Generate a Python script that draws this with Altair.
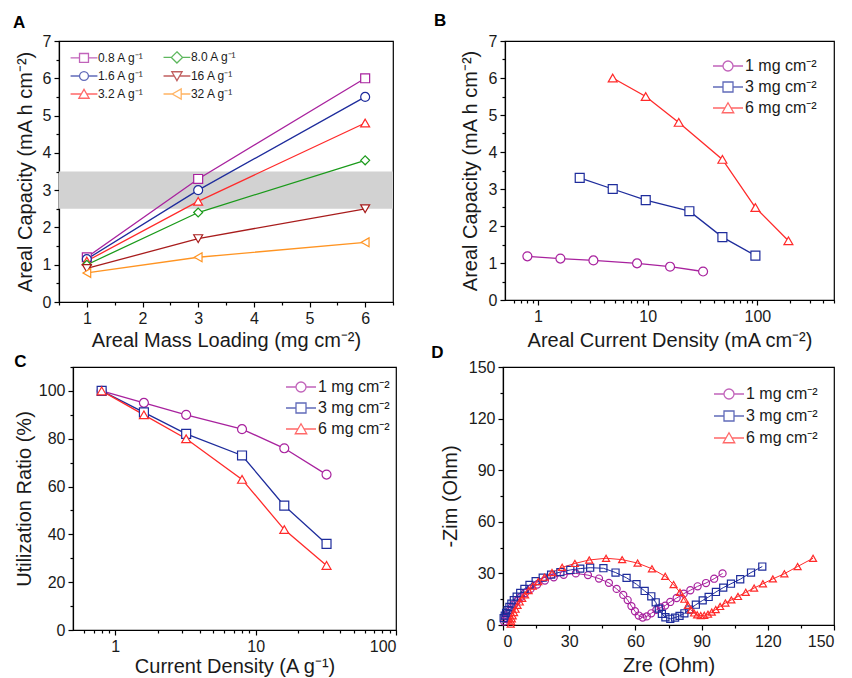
import altair as alt
import pandas as pd

# ---------------- data ----------------
A_LOADING = [1, 3, 6]
A_SERIES = ["0.8 A g⁻¹", "1.6 A g⁻¹", "3.2 A g⁻¹", "8.0 A g⁻¹", "16  A g⁻¹", "32  A g⁻¹"]
A_VALUES = [
    [1.20, 3.30, 6.00],
    [1.15, 3.00, 5.50],
    [1.10, 2.70, 4.80],
    [1.00, 2.40, 3.80],
    [0.90, 1.70, 2.50],
    [0.78, 1.20, 1.60],
]
A_COLORS = ["#A8229E", "#1E2C9C", "#FF2A2A", "#1A9A1A", "#A81C1C", "#FF9422"]
A_SHAPES = ["square", "circle", "triangle-up", "diamond", "triangle-down", "triangle-left"]
BAND = {"x0": 0.5, "x1": 6.5, "y0": 2.5, "y1": 3.5}

M_SERIES = ["1 mg cm⁻²", "3 mg cm⁻²", "6 mg cm⁻²"]
M_COLORS = ["#A8229E", "#1E2C9C", "#FF2A2A"]
M_SHAPES = ["circle", "square", "triangle-up"]

B_X = [
    [0.8, 1.6, 3.2, 8, 16, 32],
    [2.4, 4.8, 9.6, 24, 48, 96],
    [4.8, 9.6, 19.2, 48, 96, 192],
]
B_Y = [
    [1.18, 1.12, 1.07, 0.99, 0.90, 0.77],
    [3.30, 3.00, 2.70, 2.40, 1.70, 1.20],
    [6.00, 5.50, 4.80, 3.80, 2.50, 1.60],
]

C_X = [0.8, 1.6, 3.2, 8, 16, 32]
C_Y = [
    [100, 95, 90, 84, 76, 65],
    [100, 91, 82, 73, 52, 36],
    [100, 90, 80, 63, 42, 27],
]

D1_X = [0.5, 1.0, 1.6, 2.3, 3.1, 4.0, 5.1, 6.4, 8.0, 10.0, 12.5, 15.5, 19.0, 23.0, 27.5, 33.0, 38.5, 43.5, 48.0,
        51.5, 54.5, 56.5, 58.2, 59.8, 61.5, 63.3, 65.2, 67.2, 69.5, 71.5, 73.5, 75.8, 78.7, 81.9, 84.9, 88.2,
        92.0, 95.7, 99.5]
D1_Y = [2.0, 3.5, 5.0, 6.7, 8.5, 10.3, 12.2, 14.2, 16.3, 18.6, 21.0, 23.5, 25.8, 27.7, 29.2, 30.0, 29.0, 27.0, 24.5,
        21.0, 17.5, 14.5, 11.0, 8.0, 5.5, 4.3, 5.0, 6.8, 8.8, 10.2, 11.3, 13.4, 15.7, 18.2, 20.2, 22.5,
        24.4, 26.9, 30.0]
D2_X = [0.3, 0.8, 1.4, 2.1, 2.9, 3.8, 4.9, 6.2, 7.8, 9.7, 12.0, 14.8, 18.0, 21.8, 26.0, 30.5, 35.0, 39.5, 45.5,
        51.0, 56.0, 60.5, 64.2, 67.2, 69.2, 70.6, 72.0, 73.6, 75.8, 78.0, 80.0, 82.2, 84.4, 87.4, 90.5, 93.2,
        96.5, 99.8, 103.3, 107.5, 112.4, 117.5]
D2_Y = [4.0, 5.5, 7.0, 8.7, 10.5, 12.4, 14.4, 16.5, 18.7, 21.0, 23.3, 25.5, 27.5, 29.3, 30.8, 32.0, 32.8, 33.3, 33.0,
        30.5, 27.4, 23.7, 19.8, 16.7, 13.2, 9.5, 6.5, 4.5, 3.6, 4.3, 5.3, 6.8, 9.0, 11.8, 14.3, 16.3,
        19.2, 21.7, 24.0, 26.6, 30.5, 34.0]
D3_X = [3.5, 3.7, 4.0, 4.4, 5.0, 5.7, 6.6, 7.6, 8.7, 10.0, 11.6, 13.5, 16.0, 18.8, 22.2, 26.8, 32.6, 39.1, 46.7,
        54.0, 61.0, 67.5, 73.5, 77.3, 80.2, 82.2, 83.8, 85.2, 86.6, 88.0, 89.6, 91.2, 92.9, 94.6, 96.4, 98.4,
        100.8, 103.5, 106.5, 110.0, 113.8, 117.8, 122.3, 127.5, 133.5, 140.5]
D3_Y = [0.5, 2.0, 3.6, 5.3, 7.2, 9.2, 11.4, 13.4, 15.5, 17.5, 20.0, 22.6, 25.3, 27.8, 30.5, 33.5, 35.8, 37.8, 38.8,
        38.0, 36.0, 32.7, 28.3, 23.5, 19.0, 15.0, 11.5, 8.8, 7.0, 5.9, 5.5, 5.6, 6.3, 7.5, 9.0, 10.8,
        12.8, 14.6, 16.6, 19.0, 21.5, 24.0, 26.8, 29.8, 34.0, 38.8]

# legend symbols: line segment + marker, in symbol units
LEG_PATHS = {
    "square": "M-3,0H-1M1,0H3M-1,-1H1V1H-1Z",
    "circle": "M-3,0H-1M1,0H3M1,0A1,1,0,1,1,-1,0A1,1,0,1,1,1,0Z",
    "triangle-up": "M-3,0H-0.6M0.6,0H3M0,-1.05L1.15,0.95H-1.15Z",
    "diamond": "M-3,0H-1.25M1.25,0H3M0,-1.25L1.25,0L0,1.25L-1.25,0Z",
    "triangle-down": "M-3,0H-0.6M0.6,0H3M0,1.05L1.15,-0.95H-1.15Z",
    "triangle-left": "M-3,0H-1.05M0.95,0H3M-1.05,0L0.95,-1.15V1.15Z",
}

FONT = "Liberation Sans"
RES = dict(color="independent", shape="independent", stroke="independent")


def frame(xs, ys, names):
    rows = []
    for name, xv, yv in zip(names, xs, ys):
        for i, (a, b) in enumerate(zip(xv, yv)):
            rows.append({"x": a, "y": b, "s": name, "i": i})
    return pd.DataFrame(rows)


def panel(df, letter, w, h, xsc, ysc, xtitle, ytitle, xvals, yvals, xminor, yminor,
          names, colors, shapes, leg_order, leg_x, leg_y, leg_cols, msize, mfill,
          lw=1.3, extra=None, xfmt="~g", ytp=8, xtp=4, toff=3, tdx=-2,
          lsym=100, lfont=16, lrow=5):
    base = alt.Chart(df)
    X = alt.X("x:Q", scale=xsc, axis=alt.Axis(title=xtitle, values=xvals, format=xfmt, orient="bottom",
                                              titlePadding=xtp, labelPadding=3, labelOverlap=False))
    Y = alt.Y("y:Q", scale=ysc, axis=alt.Axis(title=ytitle, values=yvals, format="d", orient="left",
                                              titlePadding=ytp, labelPadding=3, labelOverlap=False))
    Xn = alt.X("x:Q", scale=xsc, axis=None)
    Yn = alt.Y("y:Q", scale=ysc, axis=None)
    col = alt.Color("s:N", scale=alt.Scale(domain=names, range=colors), legend=None)
    line = base.mark_line(strokeWidth=lw).encode(x=X, y=Y, color=col, order="i:Q")
    pt_kwargs = dict(size=msize, filled=False, strokeWidth=1.2, opacity=1)
    if mfill:
        pt_kwargs["fill"] = "white"
        pt_kwargs["fillOpacity"] = 1
    pts = base.mark_point(**pt_kwargs).encode(
        x=Xn, y=Yn, color=col,
        shape=alt.Shape("s:N", scale=alt.Scale(domain=names, range=shapes), legend=None))
    cmap = dict(zip(names, colors))
    smap = dict(zip(names, shapes))
    s = lsym ** 0.5
    leg = alt.Legend(title=None, orient="none", legendX=leg_x, legendY=leg_y, columns=leg_cols,
                     symbolSize=lsym, symbolStrokeWidth=1.3, symbolFillColor="white",
                     labelFont=FONT, labelFontSize=lfont, labelColor="#1a1a1a",
                     rowPadding=lrow, columnPadding=s + 7, labelOffset=s - 1,
                     padding=0, symbolOffset=0)
    legl = base.transform_filter("false").mark_point(filled=False).encode(
        x=Xn, y=Yn,
        stroke=alt.Stroke("s:N", scale=alt.Scale(domain=leg_order, range=[cmap[n] for n in leg_order]), legend=leg),
        shape=alt.Shape("s:N", scale=alt.Scale(domain=leg_order, range=[LEG_PATHS[smap[n]] for n in leg_order]),
                        legend=leg))
    minor = base.transform_filter("false").mark_point().encode(
        x=alt.X("x:Q", scale=xsc, axis=alt.Axis(title=None, labels=False, domain=False, values=xminor,
                                                tickSize=3, orient="bottom")),
        y=alt.Y("y:Q", scale=ysc, axis=alt.Axis(title=None, labels=False, domain=False, values=yminor,
                                                tickSize=3, orient="left")))
    layers = []
    if extra is not None:
        layers.append(extra)
    layers += [line, pts, legl, minor]
    ch = (alt.layer(*layers)
          .resolve_scale(shape="independent", stroke="independent", color="independent")
          .resolve_legend(shape="independent", stroke="independent")
          .resolve_axis(x="independent", y="independent"))
    return ch.properties(width=w, height=h,
                         title=alt.TitleParams(letter, anchor="start", frame="bounds", offset=toff,
                                               font=FONT, fontSize=17, fontWeight="bold", dx=tdx))


# ---- Panel A
dfA = frame([A_LOADING] * 6, A_VALUES, A_SERIES)
band = alt.Chart(pd.DataFrame([BAND])).mark_rect(color="#d2d2d2").encode(
    x=alt.X("x0:Q", scale=alt.Scale(domain=[0.5, 6.5], nice=False), axis=None), x2="x1:Q",
    y=alt.Y("y0:Q", scale=alt.Scale(domain=[0, 7], nice=False), axis=None), y2="y1:Q")
pA = panel(dfA, "A", 334, 261,
           alt.Scale(domain=[0.5, 6.5], nice=False, zero=False), alt.Scale(domain=[0, 7], nice=False),
           "Areal Mass Loading (mg cm⁻²)", "Areal Capacity (mA h cm⁻²)",
           [1, 2, 3, 4, 5, 6], [0, 1, 2, 3, 4, 5, 6, 7],
           [0.5, 1.5, 2.5, 3.5, 4.5, 5.5, 6.5], [0.5, 1.5, 2.5, 3.5, 4.5, 5.5, 6.5],
           A_SERIES, A_COLORS, A_SHAPES, A_SERIES, 19, 10, 2, 80, True, extra=band,
           ytp=7, xtp=4, toff=1, lsym=80, lfont=12, lrow=2)

# ---- Panel B
dfB = frame(B_X, B_Y, M_SERIES)
logminorB = [0.6, 0.7, 0.8, 0.9] + [v for d in (1, 10, 100) for v in [d * k for k in range(2, 10)] if v <= 500]
pB = panel(dfB, "B", 329, 259,
           alt.Scale(type="log", domain=[0.5, 500], nice=False), alt.Scale(domain=[0, 7], nice=False),
           "Areal Current Density (mA cm⁻²)", "Areal Capacity (mA h cm⁻²)",
           [1, 10, 100], [0, 1, 2, 3, 4, 5, 6, 7],
           logminorB, [0.5, 1.5, 2.5, 3.5, 4.5, 5.5, 6.5],
           M_SERIES, M_COLORS, M_SHAPES, M_SERIES, 215, 17, 1, 80, True, xtp=6, toff=3, tdx=-26)

# ---- Panel C
dfC = frame([C_X] * 3, C_Y, M_SERIES)
logminorC = [0.6, 0.7, 0.8, 0.9] + [d * k for d in (1, 10) for k in range(2, 10)]
pC = panel(dfC, "C", 323, 263,
           alt.Scale(type="log", domain=[0.5, 100], nice=False), alt.Scale(domain=[0, 110], nice=False),
           "Current Density (A g⁻¹)", "Utilization Ratio (%)",
           [1, 10, 100], [0, 20, 40, 60, 80, 100],
           logminorC, [10, 30, 50, 70, 90, 110],
           M_SERIES, M_COLORS, M_SHAPES, M_SERIES, 220, 12, 1, 80, True, ytp=4, xtp=2, toff=-5, tdx=0)

# ---- Panel D
dfD = frame([D1_X, D2_X, D3_X], [D1_Y, D2_Y, D3_Y], M_SERIES)
pD = panel(dfD, "D", 331, 258,
           alt.Scale(domain=[0, 150], nice=False), alt.Scale(domain=[0, 150], nice=False),
           "Zre (Ohm)", "-Zim (Ohm)",
           [0, 30, 60, 90, 120, 150], [0, 30, 60, 90, 120, 150],
           [15, 45, 75, 105, 135], [15, 45, 75, 105, 135],
           M_SERIES, M_COLORS, M_SHAPES, M_SERIES, 218, 19, 1, 50, False, lw=1.0, xfmt="d",
           xtp=6, toff=-3, tdx=-9, lrow=6)

# invisible 1px spacer that lets the second row start a little to the right of the first
spacer = alt.Chart(pd.DataFrame({"x": [0]})).mark_point(opacity=0).encode(
    x=alt.X("x:Q", axis=None), y=alt.Y("x:Q", axis=None)
).properties(width=1, height=1, view=alt.ViewBackground(stroke="transparent"))

row1 = alt.hconcat(pA, pB, spacing=38).resolve_scale(**RES)
row2 = alt.hconcat(spacer, alt.hconcat(pC, pD, spacing=32).resolve_scale(**RES),
                   spacing=-50).resolve_scale(**RES)
chart = alt.vconcat(row1, row2, spacing=-8).resolve_scale(**RES).properties(
    padding={"left": 4, "top": 3, "right": 0, "bottom": 0}
).configure_view(stroke="black", strokeWidth=1.2).configure_axis(
    labelFont=FONT, titleFont=FONT, labelFontSize=16, titleFontSize=20, titleFontWeight="normal",
    labelColor="#1a1a1a", titleColor="#1a1a1a", tickColor="black", domainColor="black",
    grid=False, tickSize=5, domainWidth=1.2, tickWidth=1.2
).configure_legend(labelFont=FONT)

chart.save("out.html", embed_options={"renderer": "svg", "actions": False})
